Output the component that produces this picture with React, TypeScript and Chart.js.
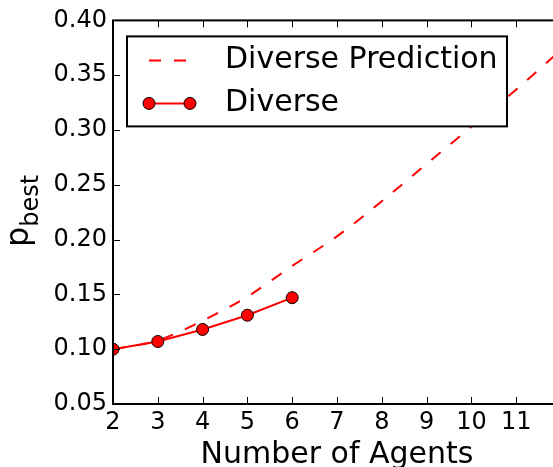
import React, { useEffect, useRef } from 'react';
import { Chart, registerables } from 'chart.js';

Chart.register(...registerables);

// Measured probability of picking the best option, by team size
const agents = [2, 3, 4, 5, 6];
const diverse = [0.1, 0.107, 0.118, 0.131, 0.147];

// Model prediction for the diverse team
const predAgents = [2, 3, 4, 5, 6, 7, 8, 9, 10, 11, 12];
const prediction = [0.1, 0.108, 0.126, 0.148, 0.176, 0.203, 0.235, 0.269, 0.303, 0.337, 0.373];

const xTicks = [2, 3, 4, 5, 6, 7, 8, 9, 10, 11];
const yTicks = [0.05, 0.1, 0.15, 0.2, 0.25, 0.3, 0.35, 0.4];

const legendLabels = ['Diverse Prediction', 'Diverse'];
const yLabelMain = 'p';
const yLabelSub = 'best';
const xLabel = 'Number of Agents';

const FONT = '"DejaVu Sans", "Liberation Sans", sans-serif';
const RED = '#ff0000';

const framePlugin = {
  id: 'frame',
  afterDatasetsDraw(chart: any) {
    const { ctx, chartArea, scales } = chart;
    const { left, right, top, bottom } = chartArea;
    const x = scales.x;
    const y = scales.y;
    const len = 7;
    ctx.save();
    ctx.strokeStyle = '#000';
    ctx.lineWidth = 1;
    ctx.beginPath();
    xTicks.forEach((v) => {
      const px = Math.round(x.getPixelForValue(v)) + 0.5;
      ctx.moveTo(px, bottom);
      ctx.lineTo(px, bottom - len);
      ctx.moveTo(px, top);
      ctx.lineTo(px, top + len);
    });
    yTicks.forEach((v) => {
      const py = Math.round(y.getPixelForValue(v)) + 0.5;
      ctx.moveTo(left, py);
      ctx.lineTo(left + len, py);
      ctx.moveTo(right, py);
      ctx.lineTo(right - len, py);
    });
    ctx.stroke();
    ctx.lineWidth = 2;
    ctx.strokeRect(left, top, right - left, bottom - top);
    ctx.restore();
  },
  afterDraw(chart: any) {
    const { ctx, chartArea } = chart;
    const { left, top } = chartArea;
    ctx.save();

    // legend box in the upper-left corner of the axes
    const bx = left + 14;
    const by = top + 16;
    const bw = 380;
    const bh = 90;
    ctx.fillStyle = '#fff';
    ctx.fillRect(bx, by, bw, bh);
    ctx.strokeStyle = '#000';
    ctx.lineWidth = 2;
    ctx.strokeRect(bx, by, bw, bh);

    const sx0 = bx + 22;
    const sx1 = bx + 63;
    const row1 = by + 24;
    const row2 = by + 67;

    ctx.strokeStyle = RED;
    ctx.lineWidth = 2;
    ctx.setLineDash([12, 13]);
    ctx.beginPath();
    ctx.moveTo(sx0, row1);
    ctx.lineTo(sx1, row1);
    ctx.stroke();
    ctx.setLineDash([]);

    ctx.beginPath();
    ctx.moveTo(sx0, row2);
    ctx.lineTo(sx1, row2);
    ctx.stroke();
    [sx0, sx1].forEach((cx) => {
      ctx.beginPath();
      ctx.arc(cx, row2, 6, 0, Math.PI * 2);
      ctx.fillStyle = RED;
      ctx.fill();
      ctx.lineWidth = 1;
      ctx.strokeStyle = '#000';
      ctx.stroke();
    });

    ctx.fillStyle = '#000';
    ctx.font = `30px ${FONT}`;
    ctx.textAlign = 'left';
    ctx.textBaseline = 'middle';
    ctx.fillText(legendLabels[0], bx + 98, row1);
    ctx.fillText(legendLabels[1], bx + 98, row2);

    // rotated y-axis label with subscript
    ctx.translate(28, 247);
    ctx.rotate(-Math.PI / 2);
    ctx.textBaseline = 'alphabetic';
    ctx.font = `32px ${FONT}`;
    ctx.fillText(yLabelMain, 0, 0);
    const w = ctx.measureText(yLabelMain).width;
    ctx.font = `24px ${FONT}`;
    ctx.fillText(yLabelSub, w, 10);
    ctx.restore();
  },
};

export default function App() {
  const ref = useRef<HTMLCanvasElement>(null);

  useEffect(() => {
    if (!ref.current) return;
    const chart = new Chart(ref.current, {
      type: 'scatter',
      data: {
        datasets: [
          {
            label: legendLabels[1],
            data: agents.map((a, i) => ({ x: a, y: diverse[i] })),
            showLine: true,
            borderColor: RED,
            borderWidth: 2,
            backgroundColor: RED,
            pointBackgroundColor: RED,
            pointBorderColor: '#000',
            pointBorderWidth: 1,
            pointRadius: 6,
            tension: 0,
            clip: 0,
          },
          {
            label: legendLabels[0],
            data: predAgents.map((a, i) => ({ x: a, y: prediction[i] })),
            showLine: true,
            borderColor: RED,
            borderWidth: 2,
            borderDash: [12, 13],
            pointRadius: 0,
            cubicInterpolationMode: 'monotone',
            clip: 0,
          },
        ],
      },
      options: {
        responsive: false,
        animation: false,
        devicePixelRatio: 1,
        layout: { padding: { left: 0, top: 17, right: 39, bottom: 0 } },
        plugins: { legend: { display: false }, tooltip: { enabled: false } },
        scales: {
          x: {
            type: 'linear',
            min: 2,
            max: 12,
            grid: { display: false, drawTicks: false },
            border: { display: false },
            afterBuildTicks: (s: any) => {
              s.ticks = xTicks.map((v) => ({ value: v }));
            },
            afterFit: (s: any) => {
              s.height = 63;
            },
            ticks: {
              autoSkip: false,
              maxRotation: 0,
              padding: 4,
              color: '#000',
              font: { family: FONT, size: 24 },
              callback: (v: any) => String(v),
            },
            title: {
              display: true,
              text: xLabel,
              color: '#000',
              padding: { top: 0, bottom: 0 },
              font: { family: FONT, size: 30, lineHeight: 0.8 },
            },
          },
          y: {
            type: 'linear',
            min: 0.05,
            max: 0.4,
            grid: { display: false, drawTicks: false },
            border: { display: false },
            afterBuildTicks: (s: any) => {
              s.ticks = yTicks.map((v) => ({ value: v }));
            },
            afterFit: (s: any) => {
              s.width = 113;
            },
            ticks: {
              autoSkip: false,
              padding: 6,
              color: '#000',
              font: { family: FONT, size: 24 },
              callback: (v: any) => Number(v).toFixed(2),
            },
          },
        },
      },
      plugins: [framePlugin],
    });
    return () => chart.destroy();
  }, []);

  return (
    <div
      style={{
        position: 'fixed',
        left: 0,
        top: 0,
        width: 553,
        height: 467,
        overflow: 'hidden',
        background: '#fff',
      }}
    >
      <canvas ref={ref} width={600} height={467} style={{ display: 'block' }} />
    </div>
  );
}
